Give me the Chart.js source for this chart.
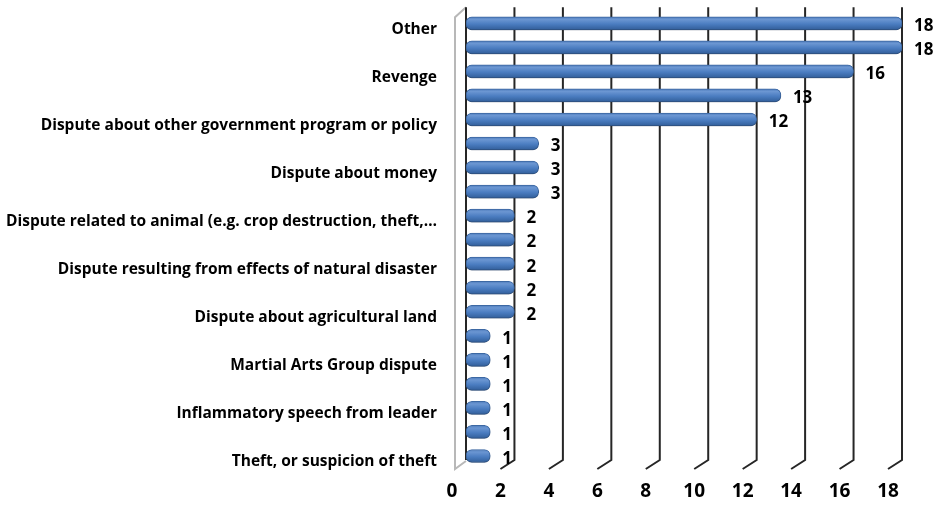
<!DOCTYPE html>
<html lang="en">
<head>
<meta charset="UTF-8">
<title>Incident motives</title>
<style>
    body {
        margin: 0;
        padding: 0;
        background-color: #fff;
    }
    .wrap {
        width: 952px;
        height: 510px;
    }
</style>
</head>
<body>
<div class="wrap"><canvas id="motiveChart" width="952" height="510"></canvas></div>
<script src="https://cdn.jsdelivr.net/npm/chart.js"></script>
<script>
    // only every other category carries a label on the axis
    const categories = [
        'Other', '',
        'Revenge', '',
        'Dispute about other government program or policy', '',
        'Dispute about money', '',
        'Dispute related to animal (e.g. crop destruction, theft,\u2026', '',
        'Dispute resulting from effects of natural disaster', '',
        'Dispute about agricultural land', '',
        'Martial Arts Group dispute', '',
        'Inflammatory speech from leader', '',
        'Theft, or suspicion of theft'
    ];
    const counts = [18, 18, 16, 13, 12, 3, 3, 3, 2, 2, 2, 2, 2, 1, 1, 1, 1, 1, 1];
    const xTicks = [0, 2, 4, 6, 8, 10, 12, 14, 16, 18];

    const FONT = '"Open Sans", Lato, sans-serif';

    // cylinder-like shading for each bar
    function barFill(context) {
        const chart = context.chart;
        const y = chart.scales.y;
        if (!chart.chartArea || !y || context.dataIndex === undefined) return '#4f81bd';
        const cy = y.getPixelForValue(context.dataIndex);
        if (!isFinite(cy)) return '#4f81bd';
        const g = chart.ctx.createLinearGradient(0, cy - 7, 0, cy + 7);
        g.addColorStop(0, '#4a78b8');
        g.addColorStop(0.22, '#6b96d2');
        g.addColorStop(0.55, '#4b7dc1');
        g.addColorStop(1, '#2f5b96');
        return g;
    }

    // gridlines with a little floor hook, plus the grey side wall
    const depthGrid = {
        id: 'depthGrid',
        beforeDatasetsDraw(chart) {
            const { ctx, chartArea: a, scales: { x } } = chart;
            ctx.save();
            ctx.lineWidth = 2;
            ctx.strokeStyle = '#b8b8b8';
            ctx.beginPath();
            ctx.moveTo(a.left, a.top - 4);
            ctx.lineTo(a.left - 11, a.top + 6);
            ctx.lineTo(a.left - 11, a.bottom + 1);
            ctx.lineTo(a.left, a.bottom - 7);
            ctx.stroke();

            ctx.strokeStyle = '#262626';
            xTicks.forEach((v, i) => {
                const px = x.getPixelForValue(v);
                ctx.beginPath();
                ctx.moveTo(px, a.top - 4);
                ctx.lineTo(px, a.bottom - 8);
                if (i > 0) ctx.lineTo(px - 14, a.bottom + 1);
                ctx.stroke();
            });
            ctx.restore();
        }
    };

    // soft drop shadow under the bars
    const barShadow = {
        id: 'barShadow',
        beforeDatasetDraw(chart) {
            const ctx = chart.ctx;
            ctx.save();
            ctx.shadowColor = 'rgba(0, 0, 0, 0.28)';
            ctx.shadowBlur = 3;
            ctx.shadowOffsetY = 2;
        },
        afterDatasetDraw(chart) {
            chart.ctx.restore();
        }
    };

    // count written after the end of each bar
    const valueLabels = {
        id: 'valueLabels',
        afterDatasetsDraw(chart) {
            const { ctx } = chart;
            const meta = chart.getDatasetMeta(0);
            ctx.save();
            ctx.font = 'bold 17px ' + FONT;
            ctx.fillStyle = '#000';
            ctx.textAlign = 'left';
            ctx.textBaseline = 'middle';
            meta.data.forEach((bar, i) => {
                ctx.fillText(String(counts[i]), bar.x + 12, bar.y + 3);
            });
            ctx.restore();
        }
    };

    new Chart(document.getElementById('motiveChart'), {
        type: 'bar',
        data: {
            labels: categories,
            datasets: [{
                data: counts,
                backgroundColor: barFill,
                borderColor: '#3d69a5',
                borderWidth: 1,
                borderRadius: 6,
                borderSkipped: false,
                barThickness: 13
            }]
        },
        options: {
            indexAxis: 'y',
            responsive: false,
            animation: false,
            devicePixelRatio: 1,
            layout: { padding: { top: 10, right: 50, bottom: 0, left: 0 } },
            plugins: {
                legend: { display: false },
                tooltip: { enabled: false }
            },
            scales: {
                x: {
                    min: 0,
                    max: 18,
                    afterBuildTicks(scale) {
                        scale.ticks = xTicks.map(v => ({ value: v }));
                    },
                    afterFit(scale) { scale.height = 42; },
                    grid: { display: false },
                    border: { display: false },
                    ticks: {
                        color: '#000',
                        font: { family: FONT, size: 19, weight: 'bold' },
                        padding: 4,
                        labelOffset: -14,
                        maxRotation: 0
                    }
                },
                y: {
                    afterFit(scale) { scale.width = 466; },
                    grid: {
                        display: true,
                        drawOnChartArea: false,
                        drawTicks: true,
                        tickLength: 27,
                        tickColor: 'rgba(0,0,0,0)'
                    },
                    border: { display: false },
                    ticks: {
                        autoSkip: false,
                        color: '#000',
                        font: { family: FONT, size: 15.5, weight: 'bold' },
                        padding: 2,
                        labelOffset: 6,
                        callback: (v, i) => categories[i]
                    }
                }
            }
        },
        plugins: [depthGrid, barShadow, valueLabels]
    });
</script>
</body>
</html>
